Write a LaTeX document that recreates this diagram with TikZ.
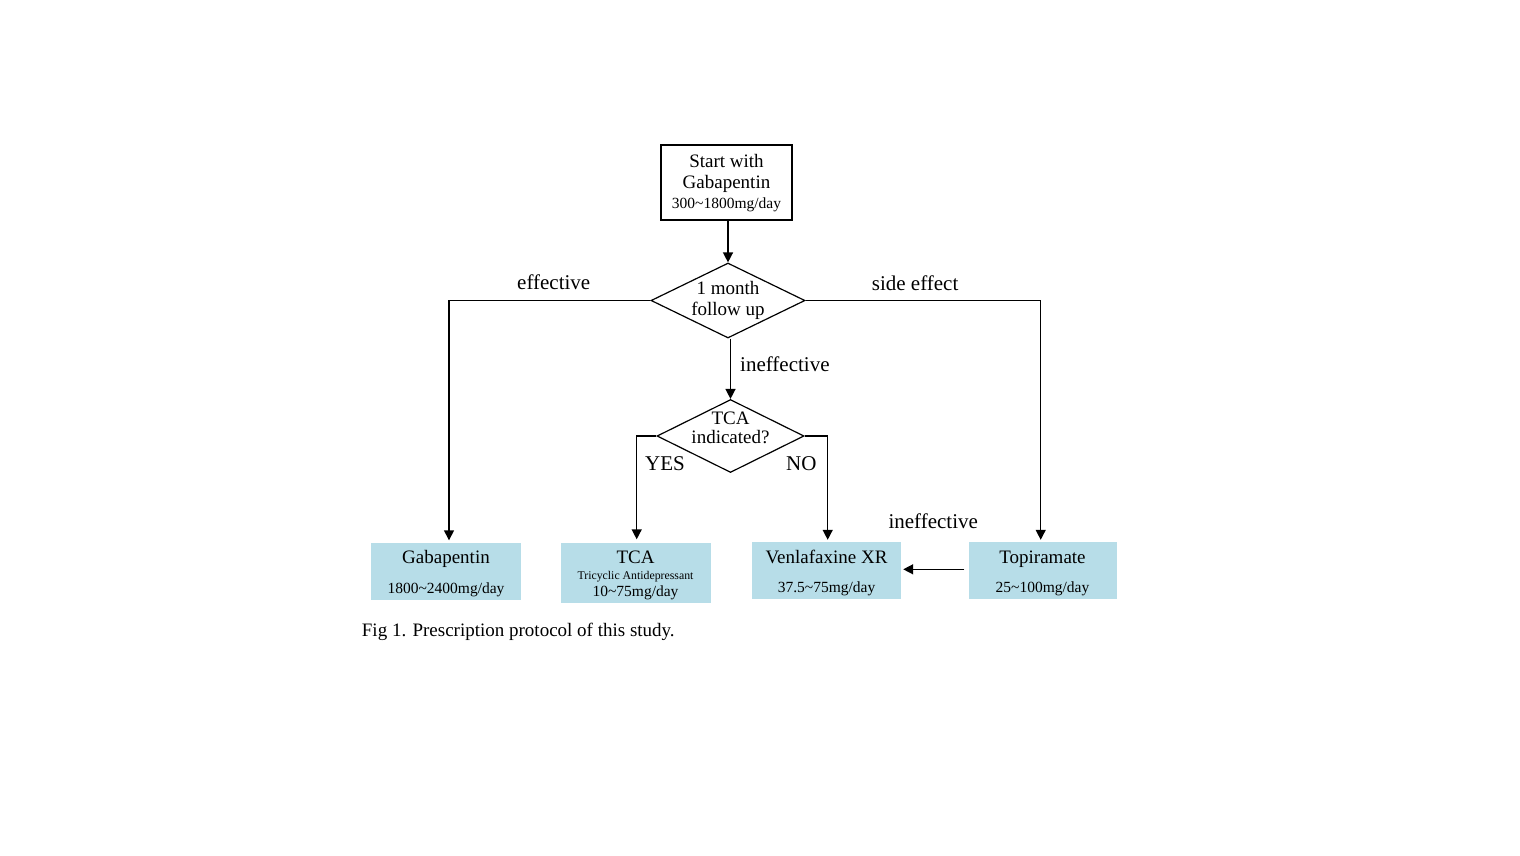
\documentclass[tikz,border=0pt]{standalone}
\usepackage{fontspec}
\setmainfont{Liberation Serif}
\usetikzlibrary{arrows.meta,shapes.geometric}
\definecolor{boxfill}{RGB}{183,221,232}
\tikzset{
  conn/.style={line width=1.4pt, draw=black},
  arr/.style={conn, -{Triangle[length=10pt,width=10pt]}},
  plainbox/.style={draw=black, line width=1.2pt, fill=white, inner sep=0pt, minimum width=131pt, minimum height=75pt},
  drugbox/.style={fill=boxfill, draw=none, inner sep=0pt, minimum width=150pt, minimum height=57pt},
  dia/.style={diamond, draw=black, line width=1.2pt, inner sep=0pt, fill=white},
  tx/.style={anchor=base, inner sep=0pt, font=\fontsize{19}{22}\selectfont},
  dose/.style={anchor=base, inner sep=0pt, font=\fontsize{15.5}{18}\selectfont},
  lab/.style={anchor=base west, inner sep=0pt, font=\fontsize{21}{24}\selectfont},
}
\begin{document}
\begin{tikzpicture}[x=1pt,y=-1pt]
\useasboundingbox (0,0) rectangle (1520,855);
\fill[white] (0,0) rectangle (1520,855);

% start box
\node[plainbox] (start) at (726.5,182.5) {};
\node[tx] (s1) at (726.5,167.3) {Start with};
\node[tx] (s2) at (726.5,188.3) {Gabapentin};
\node[dose] (s3) at (726.5,208.3) {300\textasciitilde 1800mg/day};

% diamond 1
\node[dia, minimum width=154pt, minimum height=75pt] (d1) at (728,300.5) {};
\node[tx] (d1a) at (728,294.3) {1 month};
\node[tx] (d1b) at (728,315) {follow up};

% diamond 2
\node[dia, minimum width=147pt, minimum height=73pt] (d2) at (730.5,436) {};
\node[tx] (d2a) at (730.5,424) {TCA};
\node[tx] (d2b) at (730.5,443.3) {indicated?};

% drug boxes
\node[drugbox, minimum height=57pt] (gab) at (446,571) {};
\node[tx] (g1) at (446,563) {Gabapentin};
\node[dose] (g2) at (446,593.3) {1800\textasciitilde 2400mg/day};

\node[drugbox, minimum height=60pt] (tca) at (635.5,572.5) {};
\node[tx] (t1) at (635.5,563.8) {TCA};
\node[anchor=base, inner sep=0pt, font=\fontsize{11.8}{14}\selectfont] (t2) at (635.5,579) {Tricyclic Antidepressant};
\node[dose] (t3) at (635.5,596.2) {10\textasciitilde 75mg/day};

\node[drugbox, minimum width=149pt] (ven) at (826.5,570.5) {};
\node[tx] (v1) at (826.5,563) {Venlafaxine XR};
\node[dose] (v2) at (826.5,592.2) {37.5\textasciitilde 75mg/day};

\node[drugbox, minimum width=148pt] (top) at (1042.5,570.5) {};
\node[tx] (p1) at (1042.5,563) {Topiramate};
\node[dose] (p2) at (1042.5,592.2) {25\textasciitilde 100mg/day};

% connectors
\draw[arr] (start.south -| d1.north) -- (d1.north);
\draw[arr] (d2.north |- d1.south) -- (d2.north);
\draw[arr, shorten >=2pt] (d1.west) -| ([xshift=3pt]gab.north);
\draw[arr, shorten >=2pt] (d1.east) -| ([xshift=-1.8pt]top.north);
\draw[arr, shorten >=3pt] (d2.west) -| ([xshift=1.2pt]tca.north);
\draw[arr, shorten >=2pt] (d2.east) -| ([xshift=1.2pt]ven.north);
\draw[arr, shorten <=4pt, shorten >=2pt] ([yshift=1.2pt]top.west) -- ([yshift=1.2pt]ven.east);

% labels
\node[lab] (le) at (517,289) {effective};
\node[lab] (ls) at (871.7,290.7) {side effect};
\node[lab] (li) at (740,371.7) {ineffective};
\node[lab] (ly) at (645,470) {YES};
\node[lab] (ln) at (786,470) {NO};
\node[lab] (li2) at (888.3,528.3) {ineffective};

% caption
\node[anchor=base west, inner sep=0pt, font=\fontsize{19}{22}\selectfont] (cap) at (361.7,636.7) {Fig 1. Prescription protocol of this study.};
\end{tikzpicture}
\end{document}
